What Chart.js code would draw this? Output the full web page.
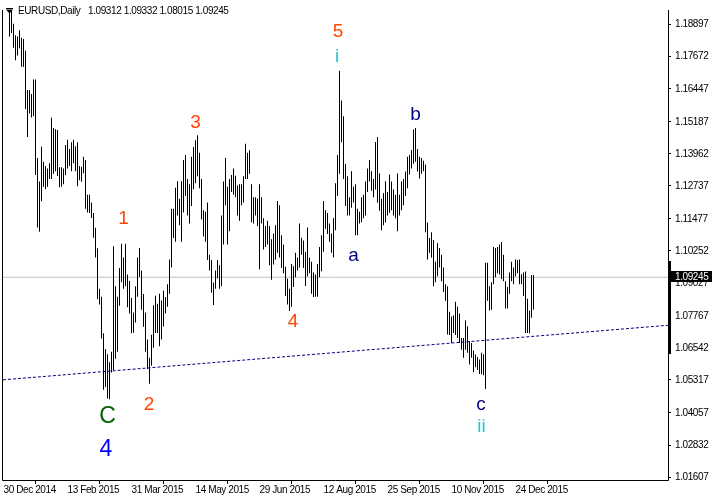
<!DOCTYPE html>
<html><head><meta charset="utf-8">
<script src="https://cdn.jsdelivr.net/npm/chart.js@4.4.0/dist/chart.umd.min.js"></script>
<style>html,body{margin:0;padding:0;background:#fff;}canvas{display:block;}</style>
</head><body>
<canvas id="c" width="712" height="498"></canvas>
<script>
// ---- data (EURUSD daily, high/low per bar) ----
const dateLabels = ['30 Dec 2014','13 Feb 2015','31 Mar 2015','14 May 2015','29 Jun 2015','12 Aug 2015','25 Sep 2015','10 Nov 2015','24 Dec 2015'];
const dateTickIdx = [0,32,64,96,128,160,192,224,256];
const priceTicks = [1.18897,1.17672,1.16447,1.15187,1.13962,1.12737,1.11477,1.10252,1.09027,1.07767,1.06542,1.05317,1.04057,1.02832,1.01607];
const highs = [
1.2190,1.2160,1.2085,1.1965,1.1960,1.1893,1.1849,1.1845,1.1868,1.1840,
1.1835,1.1790,1.1640,1.1640,1.1625,1.1680,1.1680,1.1380,1.1290,1.1423,
1.1366,1.1350,1.1340,1.1360,1.1534,1.1495,1.1490,1.1487,1.1345,1.1345,
1.1340,1.1430,1.1450,1.1415,1.1440,1.1450,1.1425,1.1440,1.1350,1.1347,
1.1385,1.1373,1.1240,1.1240,1.1210,1.1170,1.1114,1.1035,1.0880,1.0850,
1.0710,1.0650,1.0630,1.0600,1.0640,1.1043,1.0890,1.0850,1.0960,1.1052,
1.1000,1.1052,1.0935,1.0910,1.0845,1.0790,1.0890,1.1000,1.1036,1.0950,
1.0860,1.0790,1.0686,1.0617,1.0705,1.0817,1.0854,1.0823,1.0861,1.0836,
1.0873,1.0849,1.0898,1.0992,1.1186,1.1186,1.1266,1.1291,1.1224,1.1291,
1.1373,1.1392,1.1300,1.1280,1.1385,1.1422,1.1448,1.1467,1.1400,1.1300,
1.1180,1.1175,1.1210,1.1010,1.0990,1.0904,1.0950,1.0990,1.0970,1.1160,
1.1290,1.1380,1.1270,1.1300,1.1315,1.1340,1.1312,1.1275,1.1280,1.1280,
1.1310,1.1435,1.1400,1.1410,1.1280,1.1230,1.1230,1.1225,1.1280,1.1230,
1.1150,1.1120,1.1140,1.1120,1.1070,1.1092,1.1123,1.1216,1.1200,1.1085,
1.1050,1.0965,1.0920,1.0880,1.0975,1.0966,1.1018,1.1000,1.1130,1.1075,
1.1065,1.1022,1.1115,1.1000,1.0984,1.0943,1.0935,1.0975,1.1040,1.1085,
1.1216,1.1180,1.1170,1.1130,1.1092,1.1150,1.1284,1.1392,1.1714,1.1600,
1.1540,1.1358,1.1310,1.1230,1.1330,1.1270,1.1280,1.1186,1.1175,1.1230,
1.1240,1.1290,1.1340,1.1373,1.1330,1.1300,1.1441,1.1460,1.1321,1.1224,
1.1246,1.1291,1.1250,1.1317,1.1290,1.1260,1.1240,1.1321,1.1240,1.1290,
1.1300,1.1329,1.1385,1.1392,1.1411,1.1489,1.1495,1.1415,1.1385,1.1380,
1.1370,1.1355,1.1134,1.1074,1.1096,1.1067,1.0984,1.1055,1.1036,1.1010,
1.0962,1.0898,1.0890,1.0793,1.0774,1.0778,1.0831,1.0812,1.0786,1.0692,
1.0692,1.0760,1.0737,1.0681,1.0673,1.0644,1.0629,1.0620,1.0610,1.0636,
1.0630,1.0980,1.0980,1.0890,1.0905,1.1040,1.1036,1.1040,1.1050,1.1059,
1.1010,1.0909,1.0887,1.0943,1.0984,1.0962,1.0992,1.0990,1.0992,1.0936,
1.0943,1.0946,1.0842,1.0797,1.0933,1.0933];
const lows = [
1.2135,1.2100,1.2000,1.1845,1.1858,1.1802,1.1754,1.1772,1.1800,1.1729,
1.1728,1.1567,1.1460,1.1550,1.1535,1.1540,1.1315,1.1115,1.1098,1.1215,
1.1270,1.1262,1.1270,1.1300,1.1300,1.1320,1.1330,1.1311,1.1268,1.1270,
1.1280,1.1314,1.1340,1.1350,1.1330,1.1360,1.1330,1.1272,1.1295,1.1289,
1.1322,1.1186,1.1172,1.1170,1.1151,1.1075,1.1000,1.0840,1.0820,1.0690,
1.0494,1.0505,1.0461,1.0458,1.0560,1.0570,1.0613,1.0640,1.0815,1.0905,
1.0880,1.0890,1.0810,1.0786,1.0710,1.0712,1.0751,1.0850,1.0925,1.0800,
1.0735,1.0640,1.0574,1.0517,1.0586,1.0655,1.0711,1.0711,1.0661,1.0686,
1.0736,1.0786,1.0812,1.0861,1.0962,1.1074,1.1060,1.1160,1.1123,1.1060,
1.1172,1.1235,1.1160,1.1130,1.1197,1.1261,1.1284,1.1310,1.1265,1.1145,
1.1080,1.1060,1.0990,1.0950,1.0865,1.0818,1.0880,1.0920,1.0880,1.0890,
1.1050,1.1200,1.1050,1.1100,1.1250,1.1240,1.1230,1.1160,1.1140,1.1200,
1.1210,1.1300,1.1300,1.1320,1.1135,1.1130,1.1160,1.1120,1.0955,1.1130,
1.1030,1.1040,1.1050,1.0970,1.0915,1.0973,1.0991,1.1018,1.1000,1.0960,
1.0940,1.0853,1.0820,1.0795,1.0812,1.0887,1.0924,1.0950,1.0962,1.1010,
1.0960,1.0891,1.0928,1.0940,1.0861,1.0849,1.0850,1.0850,1.0924,1.0947,
1.1022,1.1110,1.1090,1.1060,1.1018,1.1000,1.1104,1.1235,1.1320,1.1440,
1.1300,1.1197,1.1160,1.1160,1.1190,1.1210,1.1085,1.1085,1.1130,1.1135,
1.1150,1.1160,1.1250,1.1290,1.1255,1.1230,1.1260,1.1209,1.1179,1.1104,
1.1123,1.1134,1.1160,1.1171,1.1180,1.1160,1.1150,1.1100,1.1160,1.1180,
1.1200,1.1235,1.1265,1.1317,1.1340,1.1358,1.1366,1.1329,1.1302,1.1320,
1.1330,1.1096,1.0992,1.1018,1.0999,1.0890,1.0905,1.0928,1.0962,1.0909,
1.0868,1.0835,1.0706,1.0704,1.0673,1.0711,1.0704,1.0692,1.0673,1.0647,
1.0617,1.0647,1.0636,1.0591,1.0617,1.0561,1.0580,1.0570,1.0555,1.0554,
1.0550,1.0497,1.0835,1.0797,1.0800,1.0898,1.0924,1.0940,1.0935,1.0917,
1.0909,1.0805,1.0805,1.0861,1.0909,1.0898,1.0928,1.0940,1.0898,1.0898,
1.0853,1.0711,1.0711,1.0710,1.0770,1.0801];
const bidPrice = 1.09245;
const headerSymbol = 'EURUSD,Daily';
const headerOHLC = ['1.09312','1.09332','1.08015','1.09245'];
const trendIdx = [-0.25, 332.25];
const trendPrice = [1.05323, 1.07408];
const axisMarkPrice = [1.0985, 1.0632];
const waveText  = ['5','i','1','2','3','4','a','b','c','ii','C','4'];
const waveIdx   = [167.25,166.75,60,72.75,96,144.75,175,206,238.75,239,52,51.25];
const wavePrice = [1.18410,1.17475,1.11263,1.04189,1.14967,1.07333,1.09878,1.15248,1.04189,1.03329,1.03684,1.02430];
const waveKind  = ['imp','minor','imp','imp','imp','imp','corr','corr','corr','minor','major','cycle'];

// ---- axis range and styles ----
const xMin = -0.25, xMax = 332.25;
const yMin = 1.014948, yMax = 1.194584;
const FONT_UI = "'Liberation Sans',Arial,sans-serif";
const UI_SIZE = 10;
const UI_SPACING = '-0.4px';
const FONT_LBL = "'Liberation Sans',Arial,sans-serif";
const waveStyle = {
  imp:{color:'#FF4500',size:19}, minor:{color:'#1EC6D6',size:19}, corr:{color:'#000080',size:19},
  major:{color:'#006400',size:23}, cycle:{color:'#0000FF',size:23}
};

const overlay = {
  id:'overlay',
  beforeUpdate(chart){ chart.ctx.letterSpacing = UI_SPACING; },
  beforeDraw(chart){ chart.ctx.letterSpacing = UI_SPACING; },
  afterDatasetsDraw(chart){
    const {ctx, scales:{x,y}} = chart;
    ctx.save();
    ctx.letterSpacing = '0px';
    ctx.textAlign='center'; ctx.textBaseline='alphabetic';
    waveText.forEach((t,k)=>{
      const st = waveStyle[waveKind[k]];
      ctx.font = st.size+'px '+FONT_LBL;
      ctx.fillStyle = st.color;
      ctx.fillText(t, x.getPixelForValue(waveIdx[k]), y.getPixelForValue(wavePrice[k]));
    });
    ctx.restore();
  },
  afterDraw(chart){
    const {ctx, chartArea:a, scales:{y}} = chart;
    ctx.save();
    ctx.letterSpacing = UI_SPACING;
    ctx.strokeStyle='#000'; ctx.lineWidth=1;
    ctx.beginPath();
    ctx.moveTo(a.left-0.5, a.top); ctx.lineTo(a.left-0.5, a.bottom+0.5);
    ctx.lineTo(a.right+0.5, a.bottom+0.5); ctx.lineTo(a.right+0.5, a.top);
    ctx.stroke();
    // thick axis marker
    const y1 = Math.round(y.getPixelForValue(axisMarkPrice[0])), y2 = Math.round(y.getPixelForValue(axisMarkPrice[1]));
    ctx.fillStyle='#000';
    ctx.fillRect(a.right, y1, 3, y2-y1);
    // bid label
    const yb = Math.round(y.getPixelForValue(bidPrice));
    ctx.fillRect(a.right+1, yb-6, 712-a.right-1, 11);
    ctx.fillStyle='#fff'; ctx.font=UI_SIZE+'px '+FONT_UI; ctx.textBaseline='middle'; ctx.textAlign='left';
    ctx.fillText(bidPrice.toFixed(5), a.right+7, yb);
    // header
    ctx.fillStyle='#000';
    ctx.fillText(headerSymbol, 18, 11);
    ctx.fillText(headerOHLC.join(' '), 88, 11);
    // small arrow icon
    ctx.fillRect(6,8,7,1);
    ctx.beginPath(); ctx.moveTo(6,9.5); ctx.lineTo(13,9.5); ctx.lineTo(9.5,13.5); ctx.closePath(); ctx.fill();
    ctx.restore();
  }
};

new Chart(document.getElementById('c'), {
  type:'bar',
  data:{datasets:[
    {type:'bar', data: highs.map((h,i)=>({x:i, y:[lows[i], h]})), backgroundColor:'#000', borderWidth:0, barThickness:1, inflateAmount:0, grouped:false, order:1},
    {type:'line', data: trendIdx.map((v,k)=>({x:v, y:trendPrice[k]})), borderColor:'#000080', borderWidth:1, borderDash:[3,2], pointRadius:0, tension:0, order:0},
    {type:'line', data: [{x:xMin, y:bidPrice},{x:xMax, y:bidPrice}], borderColor:'#C0C0C0', borderWidth:1, pointRadius:0, order:2}
  ]},
  options:{
    responsive:false, animation:false, devicePixelRatio:1,
    layout:{padding:{left:3, top:0, right:0, bottom:0}},
    plugins:{legend:{display:false}, tooltip:{enabled:false}},
    scales:{
      x:{type:'linear', min:xMin, max:xMax, position:'bottom', offset:false,
        grid:{drawOnChartArea:false, drawTicks:true, tickLength:4, color:'#000'},
        border:{display:false},
        ticks:{autoSkip:false, maxRotation:0, minRotation:0, align:'start', padding:0, color:'#000',
          font:{family:FONT_UI, size:UI_SIZE},
          callback:(v)=>{const k = dateTickIdx.indexOf(v); return k<0 ? '' : dateLabels[k];}},
        afterBuildTicks:(s)=>{ s.ticks = dateTickIdx.map(v=>({value:v})); },
        afterFit:(s)=>{ s.height = 18; }
      },
      y:{type:'linear', position:'right', min:yMin, max:yMax,
        grid:{drawOnChartArea:false, drawTicks:true, tickLength:3, color:'#000'},
        border:{display:false},
        ticks:{padding:4, color:'#000', font:{family:FONT_UI, size:UI_SIZE}, callback:(v)=>Number(v).toFixed(5)},
        afterBuildTicks:(s)=>{ s.ticks = priceTicks.map(v=>({value:v})); },
        afterFit:(s)=>{ s.width = 44; }
      }
    }
  },
  plugins:[overlay]
});
</script>
</body></html>
